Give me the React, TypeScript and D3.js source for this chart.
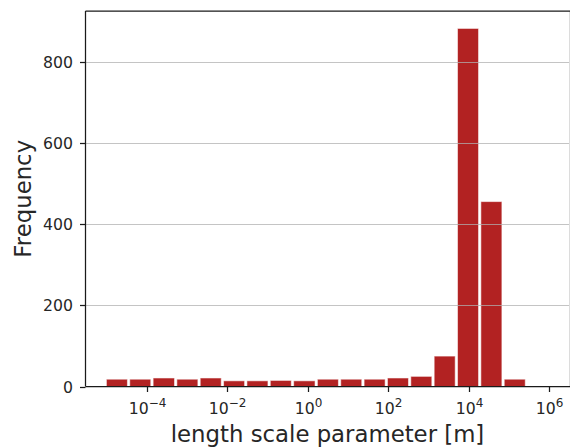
import React, { useEffect, useRef } from "react";
import * as d3 from "d3";

// histogram counts per log-spaced bin
const counts = [18, 18, 21, 18, 21, 14, 14, 15, 14, 18, 18, 18, 21, 25, 75, 883, 456, 18];
// bin edges as powers of ten
const binEdgeExponents = [
  -5.03, -4.45, -3.87, -3.28, -2.7, -2.12, -1.54, -0.96, -0.38, 0.21, 0.79, 1.37, 1.95,
  2.53, 3.11, 3.69, 4.27, 4.85, 5.43,
];
const yTicks = [0, 200, 400, 600, 800];
const xTickExponents = [-4, -2, 0, 2, 4, 6];

const App = () => {
  const svgRef = useRef<SVGSVGElement>(null);

  useEffect(() => {
    const svg = d3.select(svgRef.current);
    svg.selectAll("*").remove();

    const left = 85.5;
    const right = 569.5;
    const top = 11;
    const bottom = 386.5;
    const font = "DejaVu Sans, sans-serif";
    const textColor = "#262626";
    const axisColor = "#1a1a1a";

    const x = d3.scaleLog().domain([Math.pow(10, -5.52), Math.pow(10, 6.5)]).range([left, right]);
    const y = d3.scaleLinear().domain([0, 926]).range([bottom, top]);

    const bins = counts.map((c, i) => ({
      x0: Math.pow(10, binEdgeExponents[i]),
      x1: Math.pow(10, binEdgeExponents[i + 1]),
      count: c,
    }));

    // bars
    svg
      .append("g")
      .selectAll("rect")
      .data(bins)
      .enter()
      .append("rect")
      .attr("x", (d) => {
        const w = x(d.x1) - x(d.x0);
        return x(d.x0) + w * 0.05;
      })
      .attr("width", (d) => (x(d.x1) - x(d.x0)) * 0.9)
      .attr("y", (d) => y(d.count))
      .attr("height", (d) => y(0) - y(d.count))
      .attr("fill", "#b22222")
      .attr("stroke", "rgba(255,255,255,0.55)")
      .attr("stroke-width", 1);

    // horizontal grid (drawn over bars)
    svg
      .append("g")
      .selectAll("line")
      .data(yTicks.filter((t) => t > 0))
      .enter()
      .append("line")
      .attr("x1", left)
      .attr("x2", 570)
      .attr("y1", (d) => Math.round(y(d)) + 0.5)
      .attr("y2", (d) => Math.round(y(d)) + 0.5)
      .attr("stroke", "#b0b0b0")
      .attr("stroke-opacity", 0.75)
      .attr("stroke-width", 1.2);

    // spines (right one is cut by the figure edge)
    svg
      .append("line")
      .attr("x1", right)
      .attr("x2", right)
      .attr("y1", top)
      .attr("y2", bottom)
      .attr("stroke", "#dcdcdc")
      .attr("stroke-width", 1);
    const spine = (x1: number, y1: number, x2: number, y2: number) =>
      svg
        .append("line")
        .attr("x1", x1)
        .attr("y1", y1)
        .attr("x2", x2)
        .attr("y2", y2)
        .attr("stroke", axisColor)
        .attr("stroke-width", 1.25);
    spine(left, top, 570, top);
    spine(left, bottom, 570, bottom);
    spine(left, top, left, bottom);

    // y ticks
    const yg = svg.append("g");
    yTicks.forEach((t) => {
      const yy = Math.round(y(t)) + 0.5;
      yg.append("line")
        .attr("x1", left - 5.5)
        .attr("x2", left)
        .attr("y1", yy)
        .attr("y2", yy)
        .attr("stroke", axisColor)
        .attr("stroke-width", 1.25);
      yg.append("text")
        .attr("x", left - 12.5)
        .attr("y", yy)
        .attr("dy", "0.36em")
        .attr("text-anchor", "end")
        .attr("font-family", font)
        .attr("font-size", 15.7)
        .attr("fill", textColor)
        .text(String(t));
    });

    // x ticks
    const xg = svg.append("g");
    xTickExponents.forEach((e) => {
      const xx = Math.round(x(Math.pow(10, e))) + 0.5;
      xg.append("line")
        .attr("x1", xx)
        .attr("x2", xx)
        .attr("y1", bottom)
        .attr("y2", bottom + 5.5)
        .attr("stroke", axisColor)
        .attr("stroke-width", 1.25);
      const t = xg
        .append("text")
        .attr("x", xx)
        .attr("y", 414)
        .attr("text-anchor", "middle")
        .attr("font-family", font)
        .attr("font-size", 15.7)
        .attr("fill", textColor);
      t.append("tspan").text("10");
      t.append("tspan")
        .attr("dy", -7)
        .attr("font-size", 12)
        .text(e < 0 ? `\u2212${Math.abs(e)}` : String(e));
    });

    // axis labels
    svg
      .append("text")
      .attr("x", 327.5)
      .attr("y", 442)
      .attr("text-anchor", "middle")
      .attr("font-family", font)
      .attr("font-size", 22.8)
      .attr("fill", textColor)
      .text("length scale parameter [m]");

    svg
      .append("text")
      .attr("transform", `translate(31,${(top + bottom) / 2}) rotate(-90)`)
      .attr("text-anchor", "middle")
      .attr("font-family", font)
      .attr("font-size", 22.8)
      .attr("fill", textColor)
      .text("Frequency");
  }, []);

  return (
    <div style={{ position: "fixed", left: 0, top: 0, background: "#fff" }}>
      <svg ref={svgRef} width={570} height={448}></svg>
    </div>
  );
};

export default App;
